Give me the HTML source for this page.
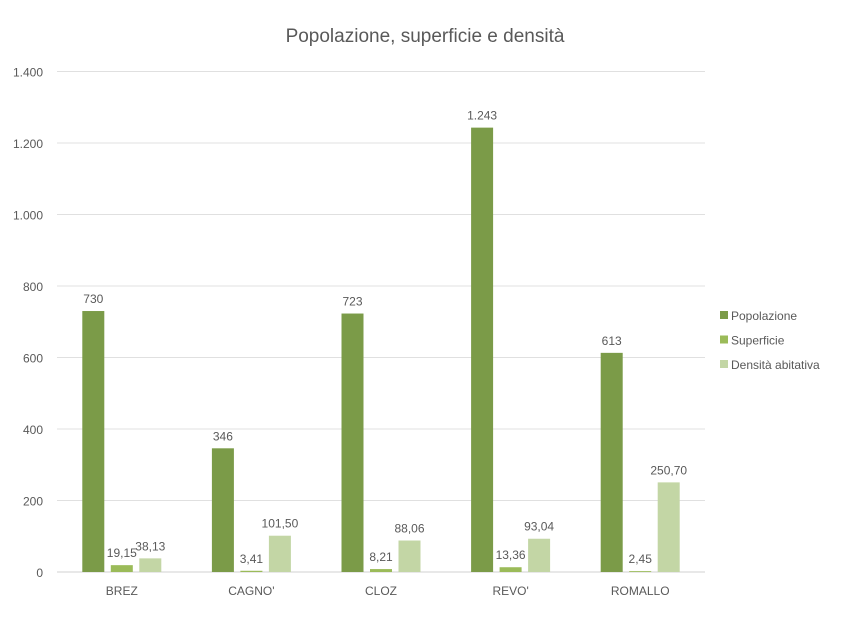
<!DOCTYPE html>
<html><head><meta charset="utf-8"><style>
body{margin:0;background:#fff;font-family:"Liberation Sans",sans-serif;}
svg text{font-family:"Liberation Sans",sans-serif;fill:#595959;}
</style></head><body>
<svg width="850" height="638" id="c">
<text x="425" y="42" text-anchor="middle" font-size="19">Popolazione, superficie e densità</text>
<g id="grid"></g><g id="bars"></g><g id="legend"></g>
</svg>
<script>
const categories=["BREZ","CAGNO'","CLOZ","REVO'","ROMALLO"];
const popolazione=[730,346,723,1243,613];
const superficie=[19.15,3.41,8.21,13.36,2.45];
const densita=[38.13,101.50,88.06,93.04,250.70];
const ticks=[0,200,400,600,800,1000,1200,1400];
const tickLabels=["0","200","400","600","800","1.000","1.200","1.400"];
const popLabels=["730","346","723","1.243","613"];
const supLabels=["19,15","3,41","8,21","13,36","2,45"];
const denLabels=["38,13","101,50","88,06","93,04","250,70"];
const seriesNames=["Popolazione","Superficie","Densità abitativa"];
const colors=["#7b9b48","#9bbb59","#c3d6a5"];
const X0=57,X1=705,Y0=572,Y1=71.5,MAX=1400;
const ns="http://www.w3.org/2000/svg";
const y=v=>Y0-(v/MAX)*(Y0-Y1);
const cw=(X1-X0)/categories.length;
const xc=i=>X0+cw*(i+0.5);
function mk(t,a,p){const e=document.createElementNS(ns,t);for(const k in a)e.setAttribute(k,a[k]);p.appendChild(e);return e;}
const g=document.getElementById('grid');
ticks.forEach((t,i)=>{
 const l=mk('line',{x1:X0,x2:X1,y1:y(t),y2:y(t),stroke:t===0?'#d0d0d0':'#e0e0e0','stroke-width':1},g);
 
 
 const tx=mk('text',{x:43,y:y(t)+5,'text-anchor':'end','font-size':12},g);
 tx.textContent=tickLabels[i];
 
 
});
const b=document.getElementById('bars');
const series=[popolazione,superficie,densita],labs=[popLabels,supLabels,denLabels];
const bw=22,step=28.5;
categories.forEach((c,i)=>{
 const cx=xc(i);
 series.forEach((s,k)=>{
  const bx=cx+(k-1)*step-bw/2;
  const r=mk('rect',{x:bx,y:y(s[i]),width:bw,height:Y0-y(s[i]),fill:colors[k]},b);
  
  
  const t=mk('text',{x:bx+bw/2,y:y(s[i])-8,'text-anchor':'middle','font-size':12},b);
  t.textContent=labs[k][i];
  
  
 });
 const t=mk('text',{x:cx,y:595,'text-anchor':'middle','font-size':12},b);
 t.textContent=c;
 
 
});
const lg=document.getElementById('legend');
seriesNames.forEach((n,k)=>{
 const ly=316+k*24.5;
 const r=mk('rect',{x:720,y:ly-5,width:8,height:8,fill:colors[k]},lg);
 
 
 const t=mk('text',{x:731,y:ly+4,'font-size':12},lg);
 t.textContent=n;
 
 
});
</script>
</body></html>
